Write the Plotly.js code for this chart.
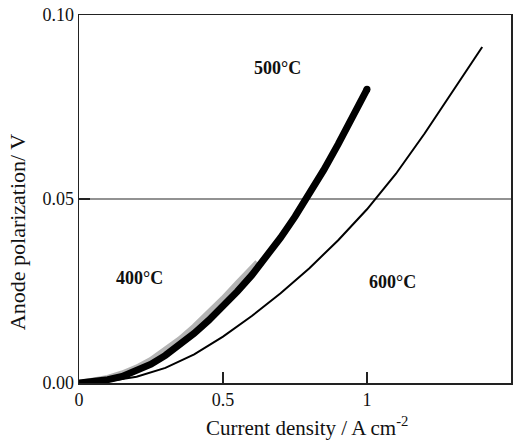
<!DOCTYPE html>
<html>
<head>
<meta charset="utf-8">
<script src="https://cdn.plot.ly/plotly-3.0.1.min.js"></script>
<style>
  html, body { margin: 0; padding: 0; background: #ffffff; }
  #chart { width: 521px; height: 441px; }
</style>
</head>
<body>
<div id="chart"></div>
<script>
// Anode polarization vs. current density at three temperatures
const current500 = [0, 0.05, 0.1, 0.15, 0.2, 0.25, 0.3, 0.35, 0.4, 0.45, 0.5, 0.55, 0.6, 0.65, 0.7, 0.75, 0.8, 0.85, 0.9, 0.95, 1.0];
const polar500   = [0, 0.0003, 0.0009, 0.0018, 0.0032, 0.0051, 0.0075, 0.0103, 0.0135, 0.017, 0.0208, 0.0249, 0.0293, 0.0342, 0.0395, 0.0452, 0.0513, 0.0579, 0.0649, 0.0722, 0.0798];

const current400 = [0, 0.05, 0.1, 0.15, 0.2, 0.25, 0.3, 0.35, 0.4, 0.45, 0.5, 0.55, 0.6, 0.62];
const polar400   = [0, 0.0005, 0.0014, 0.0026, 0.0042, 0.0063, 0.0089, 0.0119, 0.0153, 0.019, 0.0229, 0.0271, 0.0314, 0.0328];

const current600 = [0, 0.1, 0.2, 0.3, 0.4, 0.5, 0.6, 0.7, 0.8, 0.9, 1.0, 1.1, 1.2, 1.3, 1.4];
const polar600   = [0, 0.0005, 0.0017, 0.0041, 0.0078, 0.0126, 0.0182, 0.0244, 0.0312, 0.0388, 0.0472, 0.0568, 0.0678, 0.0795, 0.0913];

const refLevel = 0.05;

const xTicks = [0, 0.5, 1, 1.5];
const xTickText = ['0', '0.5', '1', '1.5'];
const yTicks = [0, 0.05, 0.1];
const yTickText = ['0.00', '0.05', '0.10'];

const labels = ['400°C', '500°C', '600°C'];
const labelX = [0.21, 0.69, 1.09];
const labelY = [0.0285, 0.0855, 0.0275];

const serif = 'Liberation Serif, Times New Roman, serif';

const last = a => a[a.length - 1];

const traces = [
  {
    x: current400, y: polar400, mode: 'lines', line: {color: '#b4b4b4', width: 6},
    hoverinfo: 'skip', showlegend: false
  },
  {
    x: current500, y: polar500, mode: 'lines', line: {color: '#000000', width: 7},
    hoverinfo: 'skip', showlegend: false
  },
  {
    // rounded end of the 500 °C curve
    x: [last(current500)], y: [last(polar500)], mode: 'markers',
    marker: {color: '#000000', size: 7, symbol: 'circle', line: {width: 0}},
    hoverinfo: 'skip', showlegend: false
  },
  {
    x: current600, y: polar600, mode: 'lines', line: {color: '#000000', width: 2},
    hoverinfo: 'skip', showlegend: false
  }
];

const annotations = labels.map((t, i) => ({
  x: labelX[i], y: labelY[i], xref: 'x', yref: 'y', text: '<b>' + t + '</b>',
  showarrow: false, font: {family: serif, size: 18, color: '#111'}
}));

annotations.push({
  xref: 'paper', yref: 'paper', x: -0.1435, y: 0.41, xanchor: 'center', yanchor: 'middle',
  text: 'Anode polarization/ V', textangle: -90, showarrow: false,
  font: {family: serif, size: 22, color: '#111'}
});

annotations.push({
  xref: 'paper', yref: 'paper', x: 0.528, y: -0.118, xanchor: 'center', yanchor: 'middle',
  text: 'Current density / A cm<sup>-2</sup>', showarrow: false,
  font: {family: serif, size: 21, color: '#111'}
});

const layout = {
  width: 521, height: 441,
  margin: {l: 79, r: 10, t: 15, b: 58},
  paper_bgcolor: '#ffffff', plot_bgcolor: '#ffffff',
  font: {family: serif, size: 17, color: '#111'},
  showlegend: false,
  xaxis: {
    range: [0, 1.5], tickvals: xTicks, ticktext: xTickText,
    ticks: 'inside', ticklen: 11, tickwidth: 1.2, tickcolor: '#222',
    showgrid: false, zeroline: false, showline: true, linecolor: '#222', linewidth: 1.5, mirror: true,
    tickfont: {family: serif, size: 18, color: '#111'}
  },
  yaxis: {
    range: [0, 0.1], tickvals: yTicks, ticktext: yTickText,
    ticks: 'inside', ticklen: 11, tickwidth: 1.2, tickcolor: '#222',
    showgrid: false, zeroline: false, showline: true, linecolor: '#222', linewidth: 1.5, mirror: true,
    tickfont: {family: serif, size: 18, color: '#111'}
  },
  shapes: [{
    type: 'line', xref: 'paper', yref: 'y', x0: 0, x1: 1, y0: refLevel, y1: refLevel,
    line: {color: '#6e6e6e', width: 1.5}, layer: 'below'
  }],
  annotations: annotations
};

Plotly.newPlot('chart', traces, layout, {staticPlot: true, displayModeBar: false});
</script>
</body>
</html>
